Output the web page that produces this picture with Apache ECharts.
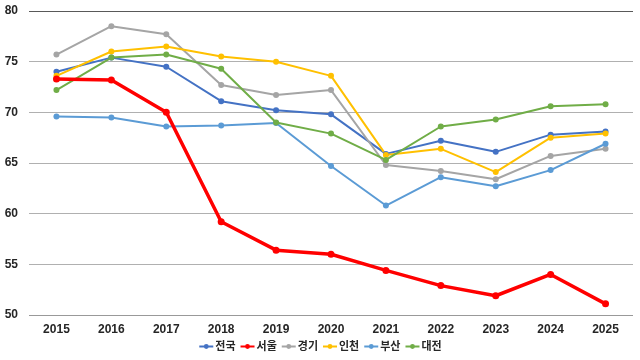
<!DOCTYPE html>
<html><head><meta charset="utf-8">
<script src="https://cdn.jsdelivr.net/npm/echarts@6/dist/echarts.min.js"></script>
<style>html,body{margin:0;padding:0;background:#fff}#c{width:640px;height:360px}</style>
</head><body><div id="c"></div>
<script>
var years = ['2015','2016','2017','2018','2019','2020','2021','2022','2023','2024','2025'];
var names = ['전국','서울','경기','인천','부산','대전'];
var national = [74.0,75.4,74.5,71.1,70.2,69.8,65.9,67.2,66.1,67.8,68.1];
var seoul    = [73.3,73.2,70.0,59.2,56.4,56.0,54.4,52.9,51.9,54.0,51.1];
var gyeonggi = [75.7,78.5,77.7,72.7,71.7,72.2,64.8,64.2,63.4,65.7,66.4];
var incheon  = [73.6,76.0,76.5,75.5,75.0,73.6,65.8,66.4,64.1,67.5,67.9];
var busan    = [69.6,69.5,68.6,68.7,68.95,64.7,60.8,63.6,62.7,64.3,66.9];
var daejeon  = [72.2,75.4,75.7,74.3,69.0,67.9,65.3,68.6,69.3,70.6,70.8];
var yTicks = [50,55,60,65,70,75,80];

var colors = ['#4472C4','#FF0000','#A5A5A5','#FFC000','#5B9BD5','#70AD47'];
var dataSets = [national, seoul, gyeonggi, incheon, busan, daejeon];
var FONT = "'Liberation Sans Narrow','Liberation Sans','Noto Sans CJK KR',sans-serif";

var series = names.map(function(n,i){
  var w = i===1 ? 3.5 : 2;
  return {
    name: n, type: 'line', data: dataSets[i],
    symbol: 'circle', symbolSize: i===1 ? 7 : 6,
    lineStyle: {color: colors[i], width: w},
    itemStyle: {color: colors[i]},
    z: i===1 ? 10 : 2
  };
});

var chart = echarts.init(document.getElementById('c'), null, {renderer:'canvas'});
chart.setOption({
  animation: false,
  color: colors,
  grid: {left: 29, right: 7, top: 11, bottom: 45, containLabel: false},
  xAxis: {
    type: 'category', data: years, boundaryGap: true,
    axisLine: {show: false}, axisTick: {show: false},
    axisLabel: {color: '#262626', fontWeight: 'bold', fontSize: 12, fontFamily: FONT, margin: 9}
  },
  yAxis: {
    type: 'value', min: yTicks[0], max: yTicks[yTicks.length-1], interval: 5,
    axisLine: {show: false}, axisTick: {show: false},
    axisLabel: {color: '#262626', fontWeight: 'bold', fontSize: 12, fontFamily: FONT, margin: 11},
    splitLine: {lineStyle: {color: ['#999999','#b0b0b0','#b0b0b0','#b0b0b0','#b0b0b0','#b0b0b0','#595959'], width: 1}}
  },
  legend: {
    data: names, top: 341, left: 'center', padding: 0,
    itemWidth: 14, itemHeight: 6, itemGap: 4,
    textStyle: {color: '#262626', fontWeight: 'bold', fontSize: 11, fontFamily: FONT, padding: [0,0,0,-3]}
  },
  series: series
});
</script></body></html>
